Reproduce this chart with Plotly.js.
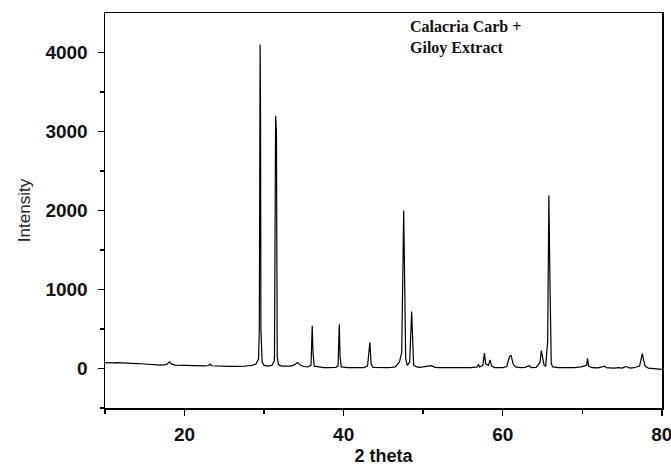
<!DOCTYPE html>
<html>
<head>
<meta charset="utf-8">
<script src="https://cdn.plot.ly/plotly-3.0.1.min.js"></script>
<style>html,body{margin:0;padding:0;background:#fff;}#chart{width:671px;height:466px;}</style>
</head>
<body>
<div id="chart"></div>
<script>
// 2-theta positions (degrees)
const twoTheta = [
  10.0,10.5,11.0,11.5,12.0,12.5,13.0,13.5,14.0,14.5,15.0,15.5,16.0,16.5,17.0,17.5,17.8,18.1,18.4,18.8,
  19.5,20.0,20.5,21.0,21.5,22.0,22.5,23.0,23.2,23.4,24.0,24.5,25.0,25.5,26.0,26.5,27.0,27.5,28.0,28.5,
  29.0,29.3,29.4,29.5,29.55,29.6,29.75,30.0,30.5,31.0,31.3,31.45,31.55,31.65,31.8,32.2,32.8,33.3,33.8,34.2,
  34.6,35.0,35.5,35.9,36.05,36.15,36.3,37.0,37.5,38.0,38.5,39.0,39.3,39.45,39.55,39.7,40.5,41.0,41.5,42.0,
  42.5,43.0,43.3,43.45,43.7,44.5,45.0,45.5,46.0,46.5,47.0,47.3,47.55,47.65,47.8,48.0,48.3,48.55,48.65,48.8,
  49.2,49.5,50.0,51.0,51.5,52.0,53.0,54.0,55.0,56.0,56.8,56.95,57.1,57.5,57.7,57.85,58.2,58.4,58.6,59.0,
  59.5,60.0,60.5,60.85,61.05,61.3,61.6,62.2,62.8,63.3,63.6,64.2,64.7,64.85,65.0,65.2,65.4,65.65,65.8,65.88,
  65.95,66.1,66.3,67.0,68.0,68.5,69.0,69.8,70.55,70.65,70.8,71.2,72.0,72.8,73.0,74.0,74.5,75.0,75.5,76.0,
  76.5,77.2,77.55,77.7,77.9,78.3,79.0,79.5,80.0
];
// Intensity (counts)
const intensity = [
  75,78,72,74,70,72,68,66,62,60,55,52,50,45,42,45,55,85,55,42,
  40,38,35,32,30,30,32,38,55,35,30,28,28,26,27,25,28,30,35,40,
  60,120,500,4100,3280,500,80,40,30,40,100,3200,3000,150,50,30,25,30,45,75,
  40,25,20,40,540,200,30,15,10,12,10,15,30,560,150,20,10,8,12,10,
  12,30,330,60,15,10,8,12,15,20,80,200,2000,1100,120,40,80,720,480,40,
  20,15,20,35,15,10,12,8,10,12,20,55,20,40,195,60,40,110,30,12,
  10,12,25,150,165,60,20,12,15,35,12,15,80,228,150,40,30,350,2190,1155,
  990,60,20,10,8,12,10,20,40,130,30,10,8,30,10,5,10,5,25,5,
  10,30,190,110,30,5,0,-5,-10
];
const xTickVals = [20, 40, 60, 80];
const xTickText = ["20", "40", "60", "80"];
const yTickVals = [0, 1000, 2000, 3000, 4000];
const yTickText = ["0", "1000", "2000", "3000", "4000"];
const xTitle = "2 theta";
const yTitle = "Intensity";
const sampleLabel = "Calacria Carb +<br>Giloy Extract";

const tickFont = {family: "Liberation Sans, Arial, sans-serif", size: 19, color: "#111", weight: "bold"};

Plotly.newPlot("chart", [{
  x: twoTheta, y: intensity, type: "scatter", mode: "lines",
  line: {color: "#000", width: 1.2}, hoverinfo: "skip", cliponaxis: true
}], {
  width: 671, height: 466,
  margin: {l: 105, r: 9, t: 13, b: 58, pad: 0},
  paper_bgcolor: "#fff", plot_bgcolor: "#fff",
  showlegend: false,
  xaxis: {
    range: [10, 80.02], tickmode: "array", tickvals: xTickVals, ticktext: xTickText,
    ticks: "outside", ticklen: 6, tickwidth: 1.5, tickcolor: "#000",
    minor: {tickmode: "array", tickvals: [10, 30, 50, 70], ticks: "outside", ticklen: 4, tickwidth: 1.5, tickcolor: "#000"},
    showline: true, linecolor: "#000", linewidth: 1.5, mirror: true,
    showgrid: false, zeroline: false,
    tickfont: tickFont,
    ticklabelstandoff: 3,
    ticklabeloverflow: "allow",
    automargin: false,
    title: {text: xTitle, font: {family: "Liberation Sans, Arial, sans-serif", size: 18, color: "#111", weight: "bold"}, standoff: 8}
  },
  yaxis: {
    range: [-500, 4500], tickmode: "array", tickvals: yTickVals, ticktext: yTickText,
    ticks: "outside", ticklen: 6, tickwidth: 1.5, tickcolor: "#000",
    minor: {tickmode: "array", tickvals: [-500, 500, 1500, 2500, 3500], ticks: "outside", ticklen: 4, tickwidth: 1.5, tickcolor: "#000"},
    showline: true, linecolor: "#000", linewidth: 1.5, mirror: true,
    showgrid: false, zeroline: false,
    tickfont: tickFont,
    ticklabelstandoff: 6,
    automargin: false,
    title: {text: yTitle, font: {family: "Liberation Sans, Arial, sans-serif", size: 17, color: "#222"}, standoff: 10}
  },
  annotations: [{
    text: sampleLabel, xref: "paper", yref: "paper",
    x: (408 - 105) / 557, y: 1 - (37 - 13) / 395,
    xanchor: "left", yanchor: "middle", align: "left", showarrow: false,
    font: {family: "Liberation Serif, Times New Roman, serif", size: 16, color: "#111", weight: "bold"}
  }]
}, {staticPlot: true, displayModeBar: false});
</script>
</body>
</html>
